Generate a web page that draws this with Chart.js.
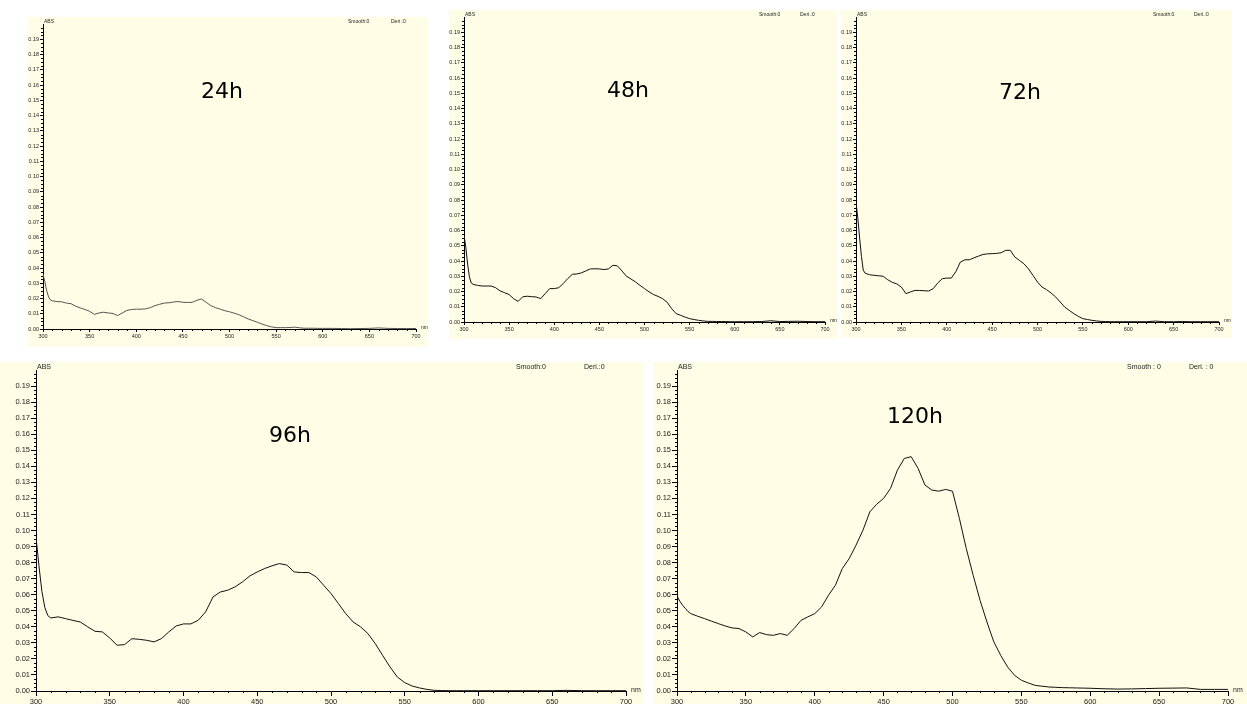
<!DOCTYPE html>
<html>
<head>
<meta charset="utf-8">
<script src="https://cdn.jsdelivr.net/npm/chart.js@4.4.1/dist/chart.umd.min.js"></script>
<style>
  body { margin: 0; background: #fff; width: 1247px; height: 704px; position: relative; overflow: hidden; }
  canvas { position: absolute; }
</style>
</head>
<body>
<canvas id="c24" width="400" height="330" style="left:28px;top:17px"></canvas>
<canvas id="c48" width="388" height="329" style="left:449px;top:10px"></canvas>
<canvas id="c72" width="391" height="328" style="left:841px;top:10px"></canvas>
<canvas id="c96" width="644" height="342" style="left:0px;top:362px"></canvas>
<canvas id="c120" width="594" height="342" style="left:653px;top:362px"></canvas>
<script>
// wavelength grid (nm), shared by all spectra
const wavelengths = [
  300, 302, 304, 306, 308,
  310, 315, 320, 325, 330, 335, 340, 345, 350, 355,
  360, 365, 370, 375, 380, 385, 390, 395, 400, 405,
  410, 415, 420, 425, 430, 435, 440, 445, 450, 455,
  460, 465, 470, 475, 480, 485, 490, 495, 500, 505,
  510, 515, 520, 525, 530, 535, 540, 545, 550, 555,
  560, 565, 570, 575, 580, 585, 590, 595, 600,
  610, 620, 630, 640, 650, 660, 670, 680, 690, 700
];

// absorbance
const abs24 = [
  0.036, 0.031, 0.025, 0.021, 0.019,
  0.0185, 0.018, 0.0178, 0.017, 0.0166, 0.015, 0.0138, 0.0128, 0.0116, 0.0096,
  0.0105, 0.011, 0.0105, 0.0102, 0.0088, 0.0105, 0.0122, 0.0128, 0.013, 0.013,
  0.0132, 0.014, 0.0153, 0.0162, 0.017, 0.0172, 0.0177, 0.018, 0.0175, 0.0174,
  0.0175, 0.0188, 0.0197, 0.0175, 0.0153, 0.014, 0.013, 0.012, 0.0113, 0.0104,
  0.0094, 0.008, 0.0066, 0.0055, 0.0044, 0.0032, 0.0022, 0.0014, 0.0009, 0.0009,
  0.0009, 0.001, 0.0012, 0.0008, 0.0005, 0.0005, 0.0005, 0.0004, 0.0004,
  0.0004, 0.0003, 0.0002, 0.0003, 0.0004, 0.0007, 0.0004, 0.0003, 0.0003, 0.0003
];
const abs48 = [
  0.057, 0.049, 0.038, 0.0296, 0.0256,
  0.0247, 0.024, 0.0236, 0.0236, 0.0236, 0.0225, 0.0204, 0.0192, 0.018, 0.0153,
  0.0135, 0.0165, 0.0169, 0.0166, 0.0164, 0.0153, 0.0186, 0.0219, 0.0219, 0.0225,
  0.0252, 0.0285, 0.0313, 0.0315, 0.0322, 0.0335, 0.0348, 0.0349, 0.0348, 0.0344,
  0.0348, 0.0372, 0.0368, 0.0335, 0.030, 0.0282, 0.0263, 0.024, 0.0219, 0.0198,
  0.018, 0.0168, 0.0153, 0.013, 0.0088, 0.0055, 0.0044, 0.0032, 0.0022, 0.0016,
  0.0011, 0.0007, 0.0004, 0.0004, 0.0003, 0.0003, 0.0003, 0.0002, 0.0002,
  0.0002, 0.0002, 0.0003, 0.0008, 0.0003, 0.0004, 0.0005, 0.0003, 0.0002, 0.0002
];
const abs72 = [
  0.0786, 0.068, 0.055, 0.043, 0.034,
  0.032, 0.031, 0.0306, 0.0303, 0.030, 0.0277, 0.026, 0.025, 0.0229, 0.0186,
  0.0197, 0.0207, 0.0207, 0.0205, 0.0203, 0.0218, 0.0255, 0.0284, 0.0288, 0.0288,
  0.033, 0.0393, 0.0408, 0.0408, 0.0421, 0.0432, 0.0443, 0.0447, 0.0448, 0.045,
  0.0454, 0.047, 0.047, 0.0426, 0.0404, 0.0382, 0.0349, 0.0306, 0.0262, 0.0229,
  0.0212, 0.019, 0.0164, 0.0131, 0.0098, 0.0076, 0.0055, 0.0037, 0.0022, 0.0016,
  0.0011, 0.0007, 0.0004, 0.0003, 0.0002, 0.0002, 0.0002, 0.0002, 0.0002,
  0.0002, 0.0002, 0.0006, 0.0002, 0.0002, 0.0003, 0.0002, 0.0002, 0.0002, 0.0002
];
const abs96 = [
  0.096, 0.078, 0.062, 0.052, 0.047,
  0.0455, 0.0462, 0.0451, 0.044, 0.043, 0.040, 0.0372, 0.0368, 0.033, 0.0285,
  0.0289, 0.0326, 0.0322, 0.0316, 0.0306, 0.0326, 0.0368, 0.0405, 0.0418, 0.0418,
  0.0441, 0.0493, 0.0586, 0.0617, 0.0628, 0.0649, 0.068, 0.0717, 0.0742, 0.0763,
  0.078, 0.0794, 0.0785, 0.0742, 0.0738, 0.0738, 0.0711, 0.0659, 0.0607, 0.0545,
  0.0482, 0.043, 0.040, 0.0358, 0.0295, 0.0222, 0.015, 0.0087, 0.0052, 0.0031,
  0.0019, 0.001, 0.0004, 0.0003, 0.0002, 0.0002, 0.0002, 0.0002, 0.0002,
  0.0002, 0.0002, 0.0002, 0.0002, 0.0002, 0.0004, 0.0002, 0.0002, 0.0002, 0.0002
];
const abs120 = [
  0.0593, 0.056, 0.0535, 0.0515, 0.0495,
  0.0482, 0.0466, 0.0451, 0.0435, 0.042, 0.0405, 0.0393, 0.0389, 0.0368, 0.0337,
  0.0364, 0.0351, 0.0347, 0.0358, 0.0347, 0.0389, 0.044, 0.0462, 0.0482, 0.0524,
  0.0597, 0.0659, 0.0763, 0.0825, 0.0909, 0.1002, 0.1116, 0.1164, 0.120, 0.1262,
  0.1376, 0.1449, 0.146, 0.1387, 0.1283, 0.1252, 0.1245, 0.1256, 0.1245, 0.1075,
  0.0888, 0.0721, 0.0565, 0.043, 0.0306, 0.0222, 0.015, 0.0098, 0.0067, 0.005,
  0.0035, 0.003, 0.0025, 0.0023, 0.0021, 0.002, 0.0019, 0.0018, 0.0017,
  0.0014, 0.0012, 0.0013, 0.0015, 0.0017, 0.0018, 0.0019, 0.001, 0.001, 0.001
];

// axis ticks
const yMajorStep = 0.01;
const xMajorStep = 50;

// cream background, minor ticks and panel labels
const panelText = {
  id: "panelText",
  beforeDraw(chart) {
    const ctx = chart.ctx;
    ctx.save();
    ctx.fillStyle = "#FFFDE6";
    ctx.fillRect(0, 0, chart.width, chart.height);
    ctx.restore();
  },
  afterDraw(chart, args, o) {
    const ctx = chart.ctx;
    const a = chart.chartArea;
    const x = chart.scales.x;
    const y = chart.scales.y;
    ctx.save();

    ctx.strokeStyle = "#000";
    ctx.lineWidth = 1;
    ctx.beginPath();
    for (let i = 1; i < 80; i++) {
      if (i % 4 === 0) continue;
      const py = Math.round(y.getPixelForValue(i * 0.0025)) + 0.5;
      ctx.moveTo(a.left - o.minor, py);
      ctx.lineTo(a.left, py);
    }
    for (let w = 310; w < 700; w += 10) {
      if (w % 50 === 0) continue;
      const px = Math.round(x.getPixelForValue(w)) + 0.5;
      ctx.moveTo(px, a.bottom);
      ctx.lineTo(px, a.bottom + o.minor);
    }
    ctx.stroke();

    ctx.fillStyle = "#000";
    ctx.textAlign = "center";
    ctx.textBaseline = "middle";
    ctx.font = o.titleSize + "px 'DejaVu Sans'";
    ctx.fillText(o.title, o.tx, o.ty);

    ctx.fillStyle = "#222";
    ctx.font = o.small + "px 'Liberation Sans'";
    ctx.textAlign = "left";
    const ty = a.top - o.small * 0.45;
    ctx.fillText("ABS", a.left + 1, ty);
    ctx.fillText(o.smooth, o.smoothX, ty);
    ctx.fillText(o.deri, o.deriX, ty);
    ctx.fillText("nm", a.right + 5, a.bottom - 1);
    ctx.restore();
  }
};

const panels = [
  { id: "c24", data: abs24, color: "#555", title: "24h", tx: 194, ty: 75, titleSize: 22,
    yw: 15, xh: 18, padTop: 7, padRight: 12, font: 5.5, tick: 3, minor: 2, small: 5,
    smooth: "Smooth:0", deri: "Deri.:0", smoothX: 320, deriX: 363 },
  { id: "c48", data: abs48, color: "#111", title: "48h", tx: 179, ty: 81, titleSize: 22,
    yw: 15, xh: 17, padTop: 7, padRight: 12, font: 5.5, tick: 3, minor: 2, small: 5,
    smooth: "Smooth:0", deri: "Deri.:0", smoothX: 310, deriX: 351 },
  { id: "c72", data: abs72, color: "#111", title: "72h", tx: 179, ty: 83, titleSize: 22,
    yw: 15, xh: 16, padTop: 7, padRight: 13, font: 5.5, tick: 3, minor: 2, small: 5,
    smooth: "Smooth:0", deri: "Deri.:0", smoothX: 312, deriX: 353 },
  { id: "c96", data: abs96, color: "#111", title: "96h", tx: 290, ty: 74, titleSize: 22,
    yw: 36, xh: 13, padTop: 8, padRight: 18, font: 7.5, tick: 5, minor: 2, small: 7,
    smooth: "Smooth:0", deri: "Deri.:0", smoothX: 516, deriX: 584 },
  { id: "c120", data: abs120, color: "#111", title: "120h", tx: 262, ty: 55, titleSize: 22,
    yw: 24, xh: 13, padTop: 8, padRight: 19, font: 7.5, tick: 5, minor: 2, small: 7,
    smooth: "Smooth : 0", deri: "Deri. : 0", smoothX: 474, deriX: 536 }
];

panels.forEach(p => {
  const tickFont = { family: "'Liberation Sans'", size: p.font };
  new Chart(document.getElementById(p.id), {
    type: "line",
    data: {
      datasets: [{
        data: wavelengths.map((w, i) => ({ x: w, y: p.data[i] })),
        borderColor: p.color,
        borderWidth: 1,
        pointRadius: 0,
        tension: 0,
        fill: false
      }]
    },
    options: {
      responsive: false,
      animation: false,
      events: [],
      layout: { padding: { top: p.padTop, right: p.padRight, left: 0, bottom: 0 } },
      plugins: {
        legend: { display: false },
        tooltip: { enabled: false },
        panelText: p
      },
      scales: {
        x: {
          type: "linear",
          min: 300,
          max: 700,
          border: { display: true, color: "#000", width: 1 },
          grid: { drawOnChartArea: false, tickLength: p.tick, tickColor: "#000" },
          ticks: {
            stepSize: xMajorStep, autoSkip: false, maxRotation: 0, padding: 1,
            color: "#222", font: tickFont, callback: v => String(v)
          },
          afterFit: s => { s.height = p.xh; }
        },
        y: {
          min: 0,
          max: 0.2,
          border: { display: true, color: "#000", width: 1 },
          grid: { drawOnChartArea: false, tickLength: p.tick, tickColor: "#000" },
          ticks: {
            stepSize: yMajorStep, autoSkip: false, padding: 1,
            color: "#222", font: tickFont,
            callback: v => (v > 0.195 ? null : v.toFixed(2))
          },
          afterFit: s => { s.width = p.yw; }
        }
      }
    },
    plugins: [panelText]
  });
});
</script>
</body>
</html>
